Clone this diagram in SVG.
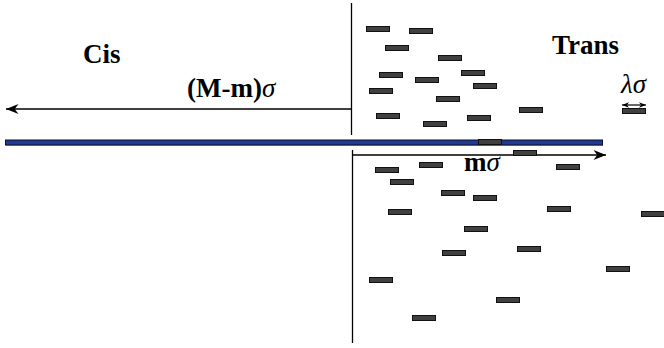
<svg xmlns="http://www.w3.org/2000/svg" width="664" height="348" viewBox="0 0 664 348">
<style>
.p{fill:#404040;stroke:#111;stroke-width:1}
.ln{stroke:#000;stroke-width:1.3;fill:none}
.t{font-family:"Liberation Serif","Times New Roman",serif;font-size:27px;fill:#000}
.b{font-weight:bold}
.i{font-style:italic}
</style>
<defs>
<marker id="ah" viewBox="0 0 10 8" refX="10" refY="4" markerWidth="13" markerHeight="10" markerUnits="userSpaceOnUse" orient="auto">
<path d="M0,0 L10,4 L0,8 L3,4 Z" fill="#000"/>
</marker>
<marker id="sh" viewBox="0 0 10 8" refX="10" refY="4" markerWidth="7" markerHeight="6" markerUnits="userSpaceOnUse" orient="auto-start-reverse">
<path d="M0,0 L10,4 L0,8 L3,4 Z" fill="#000"/>
</marker>
</defs>
<rect width="664" height="348" fill="#fff"/>
<g id="membrane">
<line x1="351.5" y1="3" x2="351.5" y2="135" class="ln"/>
<line x1="352.5" y1="150" x2="352.5" y2="343" class="ln"/>
</g>
<g id="chain">
<rect x="6" y="141" width="597" height="5" fill="#aaa"/>
<rect x="5.5" y="140" width="597" height="5" fill="#1f3a93" stroke="#0a0f2a" stroke-width="1"/>
</g>
<g id="connectors">
<line x1="351" y1="109" x2="6" y2="109" class="ln" marker-end="url(#ah)"/>
<line x1="352" y1="155" x2="606" y2="155" class="ln" marker-end="url(#ah)"/>
<line x1="622" y1="105" x2="646" y2="105" stroke="#000" stroke-width="1.2" marker-start="url(#sh)" marker-end="url(#sh)"/>
</g>
<g id="labels">
<text id="cis" x="83" y="63" class="t b">Cis</text>
<text id="trans" x="552" y="54" class="t b">Trans</text>
<text id="Mm" x="187" y="97" class="t"><tspan class="b">(M-m)</tspan><tspan class="i">σ</tspan></text>
<text id="m" x="464" y="171" class="t"><tspan class="b">m</tspan><tspan class="i">σ</tspan></text>
<text id="lambda" x="621" y="93" class="t i">λσ</text>
</g>
<g id="particles">
<rect class="p" x="366.5" y="26.5" width="23" height="5"/>
<rect class="p" x="409.5" y="28.5" width="23" height="5"/>
<rect class="p" x="385.5" y="45.5" width="23" height="5"/>
<rect class="p" x="438.5" y="55.5" width="23" height="5"/>
<rect class="p" x="379.5" y="72.5" width="23" height="5"/>
<rect class="p" x="461.5" y="70.5" width="23" height="5"/>
<rect class="p" x="415.5" y="77.5" width="23" height="5"/>
<rect class="p" x="473.5" y="83.5" width="23" height="5"/>
<rect class="p" x="369.5" y="88.5" width="23" height="5"/>
<rect class="p" x="436.5" y="96.5" width="23" height="5"/>
<rect class="p" x="519.5" y="107.5" width="23" height="5"/>
<rect class="p" x="622.5" y="108.5" width="23" height="5"/>
<rect class="p" x="376.5" y="113.5" width="23" height="5"/>
<rect class="p" x="423.5" y="121.5" width="23" height="5"/>
<rect class="p" x="467.5" y="115.5" width="23" height="5"/>
<rect class="p" x="478.5" y="139.5" width="23" height="5"/>
<rect class="p" x="513.5" y="150.5" width="23" height="5"/>
<rect class="p" x="419.5" y="162.5" width="23" height="5"/>
<rect class="p" x="375.5" y="167.5" width="23" height="5"/>
<rect class="p" x="556.5" y="164.5" width="23" height="5"/>
<rect class="p" x="390.5" y="179.5" width="23" height="5"/>
<rect class="p" x="441.5" y="190.5" width="23" height="5"/>
<rect class="p" x="473.5" y="195.5" width="23" height="5"/>
<rect class="p" x="388.5" y="209.5" width="23" height="5"/>
<rect class="p" x="547.5" y="206.5" width="23" height="5"/>
<rect class="p" x="641.5" y="211.5" width="23" height="5"/>
<rect class="p" x="464.5" y="226.5" width="23" height="5"/>
<rect class="p" x="442.5" y="250.5" width="23" height="5"/>
<rect class="p" x="517.5" y="246.5" width="23" height="5"/>
<rect class="p" x="606.5" y="266.5" width="23" height="5"/>
<rect class="p" x="369.5" y="277.5" width="23" height="5"/>
<rect class="p" x="496.5" y="297.5" width="23" height="5"/>
<rect class="p" x="412.5" y="315.5" width="23" height="5"/>
</g>
</svg>
